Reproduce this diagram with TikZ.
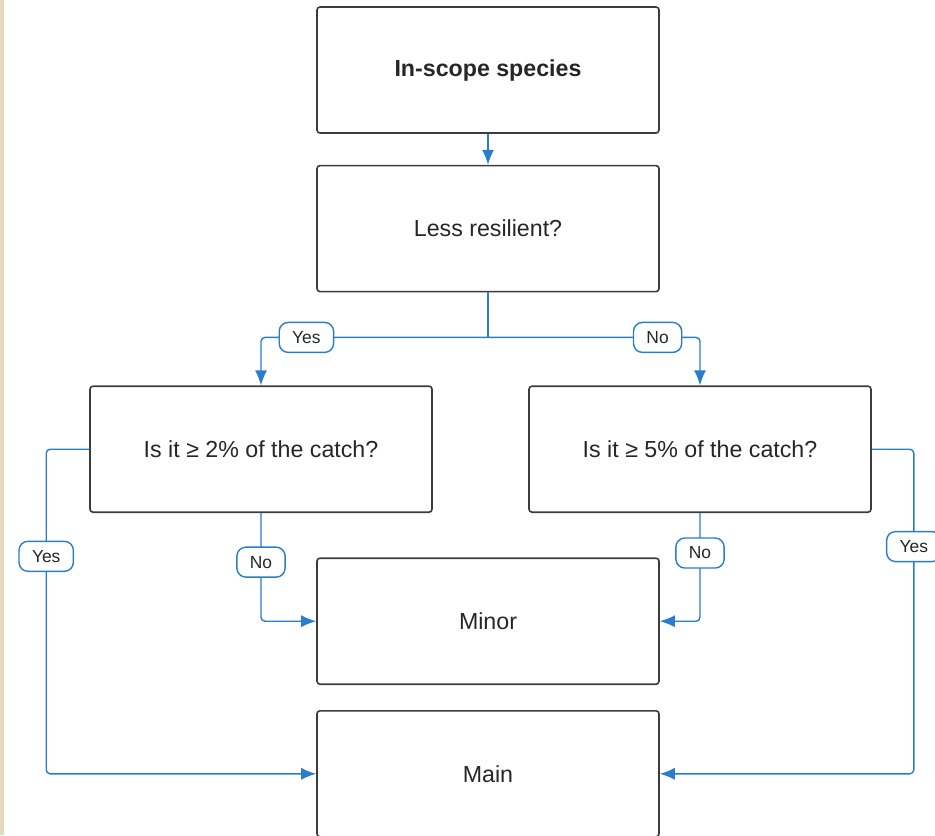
\documentclass[tikz,border=0pt]{standalone}
\usepackage{fontspec}
\setmainfont{Liberation Sans}
\usetikzlibrary{positioning, arrows.meta}
\definecolor{flowblue}{RGB}{40,125,205}
\definecolor{boxgray}{RGB}{60,60,60}
\definecolor{margintan}{RGB}{228,218,192}

\begin{document}
\begin{tikzpicture}[
	box/.style={draw=boxgray, line width=0.8pt, rounded corners=1.5pt, minimum width=171pt, minimum height=63pt, text=black!85, font=\fontsize{11.6}{14}\selectfont},
	flow/.style={draw=flowblue, line width=0.7pt, rounded corners=2pt, -{Latex[length=7.5pt,width=6pt]}},
	tag/.style={draw=flowblue, fill=white, line width=0.7pt, rounded corners=4.5pt, minimum height=15pt, inner xsep=6.5pt, inner ysep=1pt, text=black!85, font=\fontsize{8.7}{10}\selectfont}
]
	\useasboundingbox (0,0) rectangle (467.5pt,-417.5pt);
	\fill[margintan] (0,0) rectangle (2pt,-417.5pt);

	\node[box, font=\fontsize{11.6}{14}\selectfont\bfseries] (species) at (244pt,-35pt) {In-scope species};
	\node[box, below=15.5pt of species] (resilient) {Less resilient?};
	\node[box, below=46.5pt of resilient, xshift=-113.5pt] (low) {Is it ≥ 2\% of the catch?};
	\node[box, below=46.5pt of resilient, xshift=106pt] (high) {Is it ≥ 5\% of the catch?};
	\node[box, below=132.5pt of resilient] (minor) {Minor};
	\node[box, below=12.5pt of minor] (main) {Main};

	\coordinate[below=22.5pt of resilient.south] (split);

	\draw[flow] (species) -- (resilient);
	\draw[draw=flowblue, line width=0.7pt] (resilient.south) -- (split);
	\draw[flow] (split) -| node[tag, pos=0.4] {Yes} (low.north);
	\draw[flow] (split) -| node[tag, pos=0.4] {No} (high.north);

	% small share of the catch
	\draw[flow] (low.south) |- node[tag, pos=0.227] {No} (minor.west);
	\draw[flow] (high.south) |- node[tag, pos=0.185] {No} (minor.east);

	% large share of the catch
	\draw[flow] (low.west) -- ++(-21.5pt,0) |- node[tag, pos=0.165] {Yes} (main.west);
	\draw[flow] (high.east) -- ++(21pt,0) |- node[tag, pos=0.15] {Yes} (main.east);
\end{tikzpicture}
\end{document}
